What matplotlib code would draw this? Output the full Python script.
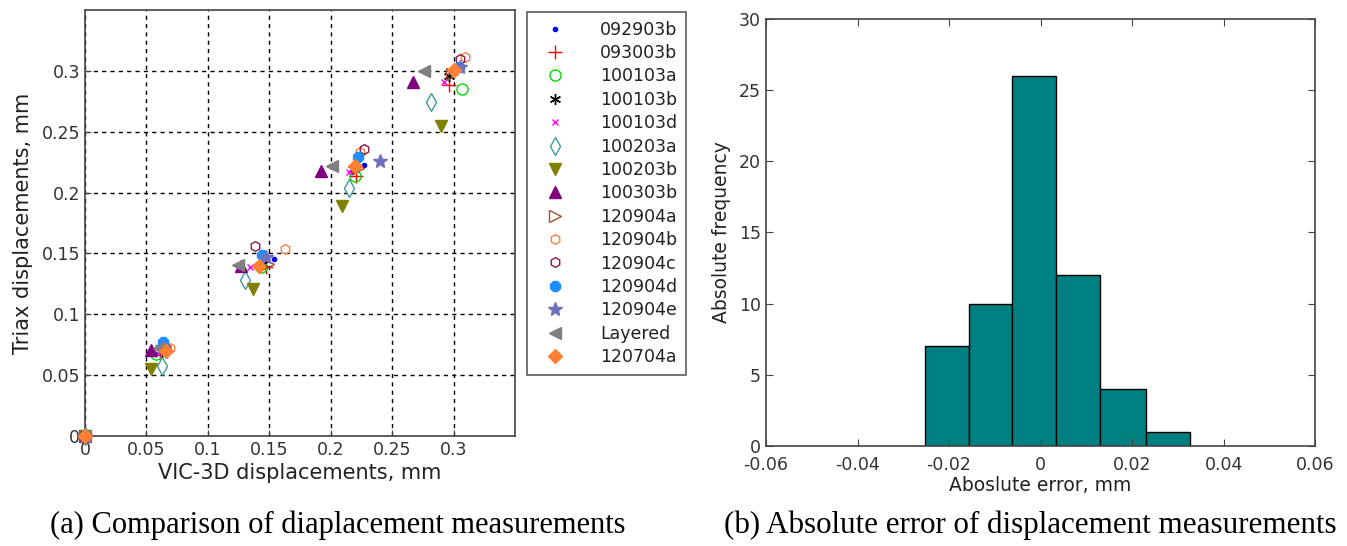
import numpy as np
import matplotlib
matplotlib.use("Agg")
import matplotlib.pyplot as plt
from matplotlib.ticker import FixedLocator, FuncFormatter

plt.rcParams['font.family'] = ['DejaVu Sans']

# --- (a) scatter data: VIC-3D (x) vs Triax (y) displacements, mm ---
series = ['092903b', '093003b', '100103a', '100103b', '100103d', '100203a',
          '100203b', '100303b', '120904a', '120904b', '120904c', '120904d',
          '120904e', 'Layered', '120704a']

vic_x = {
    '092903b': [0, 0.068, 0.154, 0.227, 0.3055],
    '093003b': [0, 0.061, 0.1476, 0.2207, 0.296],
    '100103a': [0, 0.058, 0.1435, 0.220, 0.307],
    '100103b': [0, 0.0623, 0.145, 0.218, 0.2965],
    '100103d': [0, 0.0596, 0.1346, 0.2153, 0.292],
    '100203a': [0, 0.0628, 0.130, 0.215, 0.282],
    '100203b': [0, 0.054, 0.137, 0.209, 0.290],
    '100303b': [0, 0.054, 0.127, 0.192, 0.267],
    '120904a': [0, 0.065, 0.149, 0.222, 0.299],
    '120904b': [0, 0.069, 0.163, 0.224, 0.309],
    '120904c': [0, 0.0663, 0.138, 0.227, 0.3055],
    '120904d': [0, 0.0636, 0.144, 0.2226, 0.3046],
    '120904e': [0, 0.0623, 0.1476, 0.2405, 0.305],
    'Layered': [0, 0.0604, 0.1246, 0.201, 0.276],
    '120704a': [0, 0.0658, 0.142, 0.2196, 0.3006],
}
triax_y = {
    '092903b': [0, 0.0708, 0.145, 0.223, 0.302],
    '093003b': [0, 0.0686, 0.139, 0.2137, 0.288],
    '100103a': [0, 0.0675, 0.139, 0.2137, 0.285],
    '100103b': [0, 0.0694, 0.1416, 0.219, 0.2955],
    '100103d': [0, 0.0675, 0.139, 0.2165, 0.291],
    '100203a': [0, 0.0572, 0.1285, 0.204, 0.274],
    '100203b': [0, 0.055, 0.121, 0.189, 0.255],
    '100303b': [0, 0.0708, 0.1397, 0.218, 0.291],
    '120904a': [0, 0.0713, 0.1416, 0.2205, 0.297],
    '120904b': [0, 0.072, 0.1538, 0.233, 0.311],
    '120904c': [0, 0.072, 0.1557, 0.2355, 0.310],
    '120904d': [0, 0.0776, 0.149, 0.229, 0.303],
    '120904e': [0, 0.0735, 0.147, 0.226, 0.303],
    'Layered': [0, 0.072, 0.1408, 0.222, 0.300],
    '120704a': [0, 0.0702, 0.140, 0.222, 0.301],
}

# --- (b) histogram of absolute error ---
bin_edges = [-0.0252, -0.0157, -0.0062, 0.0034, 0.0131, 0.0230, 0.0326]
counts = [7, 10, 26, 12, 4, 1]

# marker styles (marker, color, filled, size)
styles = {
    '092903b': ('.', '#0000ff', True, 6),
    '093003b': ('+', '#ff0000', True, 10),
    '100103a': ('o', '#00dd00', False, 8),
    '100103b': ((6, 2, 0), '#000000', True, 8),
    '100103d': ('x', '#ff00ff', True, 5),
    '100203a': ('d', '#3f9a9a', False, 9),
    '100203b': ('v', '#808000', True, 9),
    '100303b': ('^', '#800080', True, 9),
    '120904a': ('>', '#a0522d', False, 8),
    '120904b': ('h', '#ff7f3f', False, 7),
    '120904c': ('h', '#8b1a4a', False, 7),
    '120904d': ('8', '#1e8fff', True, 8),
    '120904e': ('*', '#7070c0', True, 10),
    'Layered': ('<', '#808080', True, 9),
    '120704a': ('D', '#ff8033', True, 7),
}

fig = plt.figure(figsize=(13.47, 5.46), dpi=100)

# ---------- left panel ----------
ax1 = fig.add_axes([0.0631, 0.2015, 0.3192, 0.7802])
for name in series:
    m, c, filled, ms = styles[name]
    ax1.plot(vic_x[name], triax_y[name], linestyle='none', marker=m,
             markersize=ms, color=c,
             markerfacecolor=c if filled else 'none',
             markeredgecolor=c, markeredgewidth=1.0, label=name,
             clip_on=False, zorder=3)

ticks = [0, 0.05, 0.1, 0.15, 0.2, 0.25, 0.3]
fmt = FuncFormatter(lambda v, p: '%g' % v)
ax1.set_xlim(0, 0.35)
ax1.set_ylim(0, 0.35)
ax1.xaxis.set_major_locator(FixedLocator(ticks))
ax1.yaxis.set_major_locator(FixedLocator(ticks))
ax1.xaxis.set_major_formatter(fmt)
ax1.yaxis.set_major_formatter(fmt)
ax1.grid(True, color='black', linestyle=(0, (3, 3)), linewidth=1.0)
ax1.tick_params(direction='in', labelsize=12.5, color='#444444', length=4,
                labelcolor='#333333')
ax1.set_xlabel('VIC-3D displacements, mm', fontsize=15, color='#222222', labelpad=3)
ax1.set_ylabel('Triax displacements, mm', fontsize=15, color='#222222', labelpad=6)
for s in ax1.spines.values():
    s.set_color('#444444')
    s.set_linewidth(1.2)

leg = ax1.legend(loc='upper left', bbox_to_anchor=(0.3915, 0.978), bbox_transform=fig.transFigure,
                 fontsize=12.5, frameon=True, fancybox=False, edgecolor='#333333',
                 handlelength=2.2, handletextpad=1.5, labelspacing=0.31,
                 borderpad=0.5, borderaxespad=0.0, numpoints=1)
leg.get_frame().set_linewidth(1.2)
for t in leg.get_texts():
    t.set_color('#222222')

# ---------- right panel ----------
ax2 = fig.add_axes([0.5687, 0.1832, 0.4076, 0.782])
ax2.bar(bin_edges[:-1], counts, width=np.diff(bin_edges), align='edge',
        color='#008080', edgecolor='black', linewidth=1.0)
ax2.set_xlim(-0.06, 0.06)
ax2.set_ylim(0, 30)
ax2.xaxis.set_major_locator(FixedLocator([-0.06, -0.04, -0.02, 0, 0.02, 0.04, 0.06]))
ax2.xaxis.set_major_formatter(fmt)
ax2.yaxis.set_major_locator(FixedLocator([0, 5, 10, 15, 20, 25, 30]))
ax2.tick_params(direction='in', labelsize=12.5, top=True, right=True,
                color='#444444', length=5, labelcolor='#333333')
ax2.tick_params(axis='x', pad=7)
ax2.set_xlabel('Aboslute error, mm', fontsize=13.5, color='#222222', labelpad=2)
ax2.set_ylabel('Absolute frequency', fontsize=13.5, color='#222222', labelpad=6)
for s in ax2.spines.values():
    s.set_color('#444444')
    s.set_linewidth(1.2)

# captions
fig.text(0.251, 0.038, '(a) Comparison of diaplacement measurements',
         ha='center', va='center', fontsize=22, family='Liberation Serif')
fig.text(0.765, 0.038, '(b) Absolute error of displacement measurements',
         ha='center', va='center', fontsize=22.3, family='Liberation Serif')

fig.savefig('out.png', dpi=100)
